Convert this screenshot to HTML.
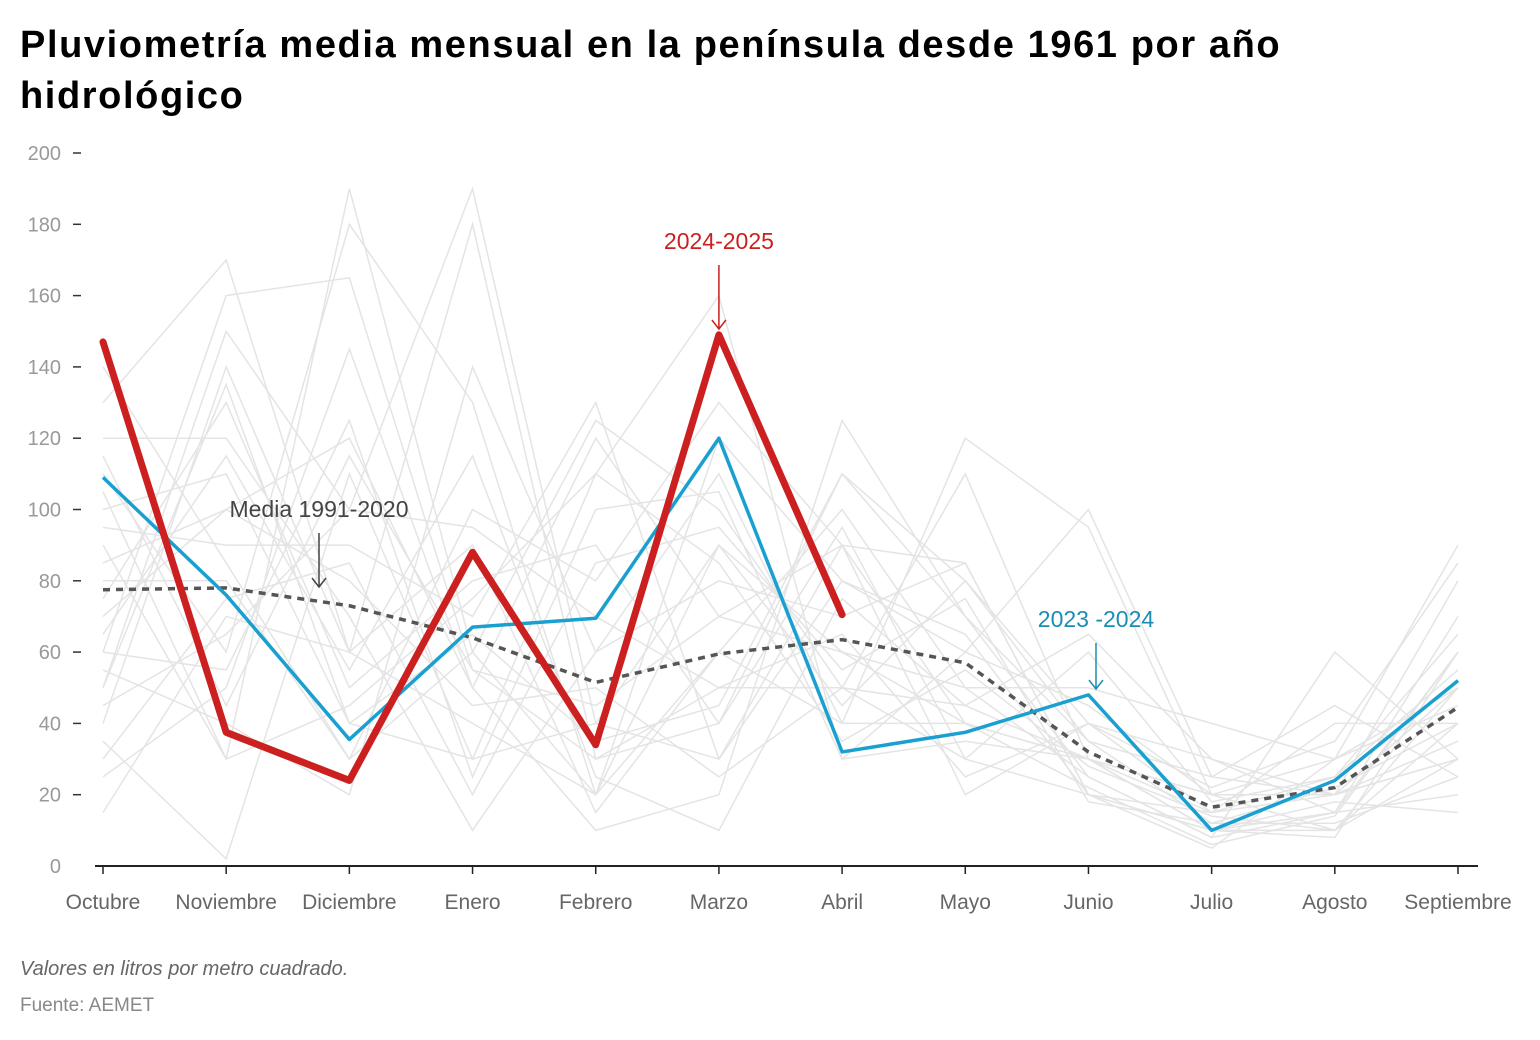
<!DOCTYPE html>
<html><head><meta charset="utf-8">
<style>
body{margin:0;background:#fff;width:1540px;height:1040px;overflow:hidden;font-family:"Liberation Sans",sans-serif}
h1{position:absolute;left:20px;top:20px;margin:0;font-size:38px;line-height:51px;font-weight:bold;color:#000;letter-spacing:1.6px;width:1320px}
.note{position:absolute;left:20px;font-size:20px;color:#666}
</style></head><body>
<h1>Pluviometría media mensual en la península desde 1961 por año hidrológico</h1>
<svg id="chart" width="1540" height="1040" style="position:absolute;left:0;top:0"></svg>
<div class="note" style="top:958px;font-style:italic">Valores en litros por metro cuadrado.</div>
<div class="note" style="top:995px;font-size:19px;color:#888">Fuente: AEMET</div>
<script>
const months=["Octubre","Noviembre","Diciembre","Enero","Febrero","Marzo","Abril","Mayo","Junio","Julio","Agosto","Septiembre"];
const yTicks=[0,20,40,60,80,100,120,140,160,180,200];
const s2425=[147,37.5,24,88,34,149,70.5];
const s2324=[109,76,35.5,67,69.5,120,32,37.5,48,10,24,52];
const media=[77.5,78,73,64,51.5,59.5,63.5,57,32,16.5,22,44.5];
const history=[
[130,170,60,40,20,90,60,40,30,10,15,60],[60,160,165,55,30,40,110,80,40,15,20,30],
[90,30,190,60,125,100,50,45,30,20,10,40],[50,150,100,190,40,30,90,85,20,5,30,90],
[110,60,180,130,20,60,40,120,95,20,20,30],[40,140,60,180,30,50,50,30,20,10,10,50],
[100,110,40,30,110,160,30,60,100,25,20,80],[70,100,120,50,10,20,125,70,25,8,60,30],
[80,80,30,100,80,130,90,20,40,30,15,70],[25,50,145,50,120,70,60,50,50,40,30,50],
[120,120,70,10,60,110,40,40,30,15,40,40],[55,40,20,140,60,80,70,85,20,10,8,60],
[95,90,90,70,130,30,80,60,45,20,20,35],[35,2,110,30,40,90,45,80,35,12,12,25],
[75,130,50,80,90,40,95,30,60,18,25,55],[15,70,60,90,15,60,100,50,25,8,15,20],
[60,55,125,25,100,105,30,35,30,20,30,45],[140,85,30,60,20,120,80,65,20,15,25,65],
[85,100,80,45,50,25,50,110,30,10,18,15],[45,65,100,95,70,50,65,25,40,22,35,85],
[105,30,45,75,110,85,35,55,28,14,10,30],[65,115,55,115,25,10,75,45,65,30,20,50],
[30,75,85,20,85,95,55,75,18,12,22,40],[115,45,115,55,45,70,90,40,22,6,14,60],
[50,135,40,65,35,45,110,70,35,25,45,25]];
const svg=document.getElementById('chart');
const NS='http://www.w3.org/2000/svg';
const x0=103,x1=1458,yb=866,yt=153;
const X=i=>x0+(x1-x0)*i/11;
const Y=v=>yb-(yb-yt)*v/200;
function mk(t,a){const e=document.createElementNS(NS,t);for(const k in a)e.setAttribute(k,a[k]);svg.appendChild(e);return e;}
function txt(s,a){const e=mk('text',a);e.textContent=s;return e;}
yTicks.forEach(v=>{
 const t=txt(String(v),{x:61,y:Y(v)+7,'text-anchor':'end','font-size':20,fill:'#999'});
 
 
 if(v>0){const l=mk('line',{x1:73,x2:81,y1:Y(v),y2:Y(v),stroke:'#333','stroke-width':1.5});
 
 }
});
function path(d,attrs,name){
 const p=mk('path',Object.assign({d:d.map((v,i)=>(i?'L':'M')+X(i)+','+Y(v)).join(''),fill:'none'},attrs));
 
 
 return p;
}
history.forEach(h=>path(h,{stroke:'#e4e4e4','stroke-width':1.5},'historical-year-line'));
const ax=mk('line',{x1:95,x2:1478,y1:yb,y2:yb,stroke:'#222','stroke-width':2});


months.forEach((m,i)=>{
 const tk=mk('line',{x1:X(i),x2:X(i),y1:yb,y2:yb+8,stroke:'#222','stroke-width':1.5});
 
 
 const t=txt(m,{x:X(i),y:909,'text-anchor':'middle','font-size':21,fill:'#666'});
 
 
});
path(media,{stroke:'#555','stroke-width':3.5,'stroke-dasharray':'7,6'},'media-1991-2020-line');
path(s2324,{stroke:'#1aa0d0','stroke-width':3.5,'stroke-linejoin':'round'},'line-2023-2024');
path(s2425,{stroke:'#cc1f1f','stroke-width':7,'stroke-linejoin':'round','stroke-linecap':'round'},'line-2024-2025');
function ann(label,xc,ytext,ya,ye,col,name){
 const t=txt(label,{x:xc,y:ytext,'text-anchor':'middle','font-size':23,fill:col});
 
 
 const a=mk('path',{d:`M${xc},${ya}L${xc},${ye}M${xc-7},${ye-9}L${xc},${ye}L${xc+7},${ye-9}`,stroke:col,fill:'none','stroke-width':1.5});
 
 
}
ann('2024-2025',X(5),249,265,329,'#cc1f1f','annotation-2024-2025');
ann('Media 1991-2020',319,517,533,587,'#444','annotation-media');
ann('2023 -2024',1096,627,643,689,'#1a8db5','annotation-2023-2024');
</script>
</body></html>
